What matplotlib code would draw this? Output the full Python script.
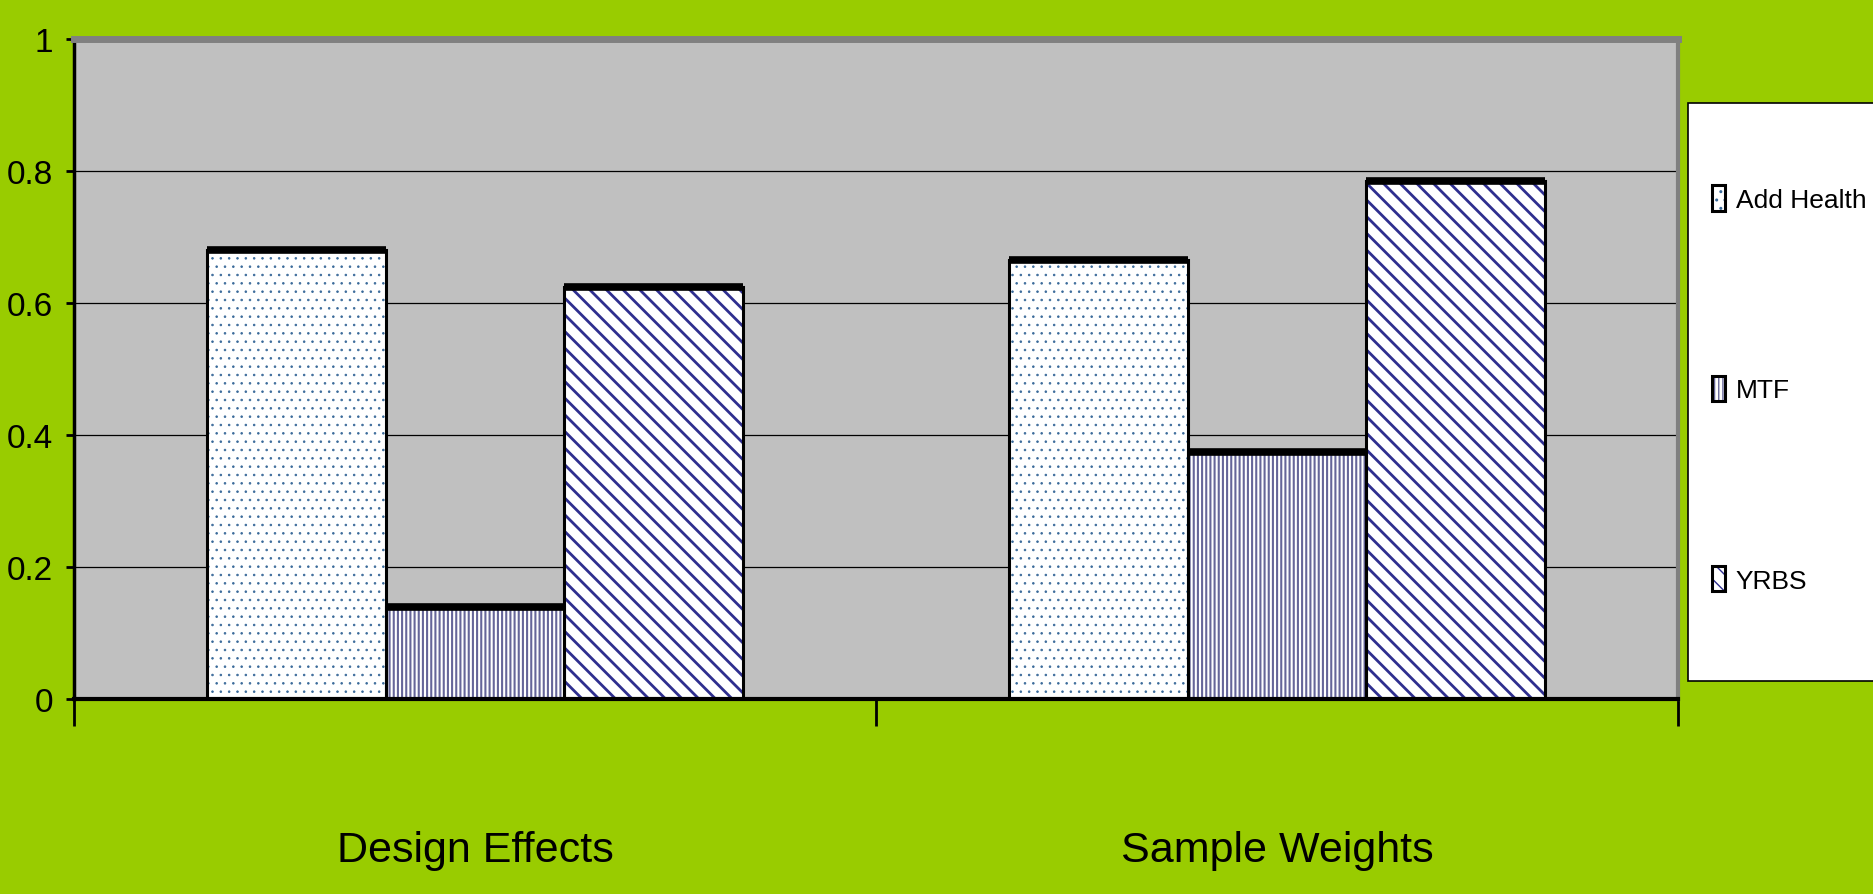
import numpy as np
import matplotlib
matplotlib.use('Agg')
from matplotlib import pyplot as plt
from matplotlib.patches import Rectangle

categories = ['Design Effects', 'Sample Weights']
series = ['Add Health', 'MTF', 'YRBS']
add_health = [0.68, 0.665]
mtf = [0.14, 0.375]
yrbs = [0.625, 0.785]
y_ticks = [0, 0.2, 0.4, 0.6, 0.8, 1]
y_labels = ['0', '0.2', '0.4', '0.6', '0.8', '1']

hatches = ['..', '||||', '\\\\']
hatch_colors = ['#3a6a9a', '#666699', '#2e2e8f']
hatch_lw = [0.6, 1.5, 2.0]

plt.rcParams['font.family'] = ['Liberation Sans', 'DejaVu Sans']

green = '#99cc00'
fig = plt.figure(figsize=(18.73, 8.95), dpi=100, facecolor=green)
ax = fig.add_axes([74 / 1873, 195 / 895, 1604 / 1873, 660 / 895])
ax.set_facecolor('#c0c0c0')

x = np.arange(len(categories))
w = 0.2225
handles = []
for i, vals in enumerate([add_health, mtf, yrbs]):
    pos = x + (i - 1) * w
    with plt.rc_context({'hatch.linewidth': hatch_lw[i]}):
        hb = ax.bar(pos, vals, w, color='white', edgecolor=hatch_colors[i],
                    hatch=hatches[i], linewidth=0, zorder=2)
    ob = ax.bar(pos, vals, w, fill=False, edgecolor='black', linewidth=2.2, zorder=3)
    ax.hlines(vals, pos - w / 2, pos + w / 2, colors='black', lw=5.5, zorder=4)
    handles.append((hb[0], ob[0]))

ax.set_xlim(-0.5, 1.5)
ax.set_ylim(0, 1)
ax.set_yticks(y_ticks, labels=y_labels)
ax.set_xticks([-0.5, 0.5, 1.5], labels=['', '', ''])
ax.set_xticks(x, labels=categories, minor=True)
ax.tick_params(axis='x', which='major', direction='out', length=19.5, width=2, color='black')
ax.tick_params(axis='x', which='minor', length=0, pad=94, labelsize=31)
ax.tick_params(axis='y', direction='out', length=6, width=2, pad=9, labelsize=24)

ax.yaxis.grid(True, color='black', lw=0.9)
ax.set_axisbelow(True)

ax.spines['top'].set_color('#808080')
ax.spines['top'].set_linewidth(5)
ax.spines['right'].set_color('#808080')
ax.spines['right'].set_linewidth(3)
ax.spines['bottom'].set_color('black')
ax.spines['bottom'].set_linewidth(3)
ax.spines['left'].set_color('black')
ax.spines['left'].set_linewidth(2.5)

# legend box, running off the right edge like the original
fig.patches.append(Rectangle((1688 / 1873, 1 - 682 / 895), 0.2, 578 / 895,
                             transform=fig.transFigure, facecolor='white',
                             edgecolor='black', lw=1.2, zorder=1))
leg = fig.legend(handles, series, loc='center left',
                 bbox_to_anchor=(1712 / 1873, 1 - 390 / 895),
                 frameon=False, fontsize=19, borderpad=0, borderaxespad=0,
                 labelspacing=6.2, handlelength=0.5, handleheight=1.1,
                 handletextpad=0.4)
leg.set_zorder(5)

fig.savefig('out.png', dpi=100, facecolor=green)
